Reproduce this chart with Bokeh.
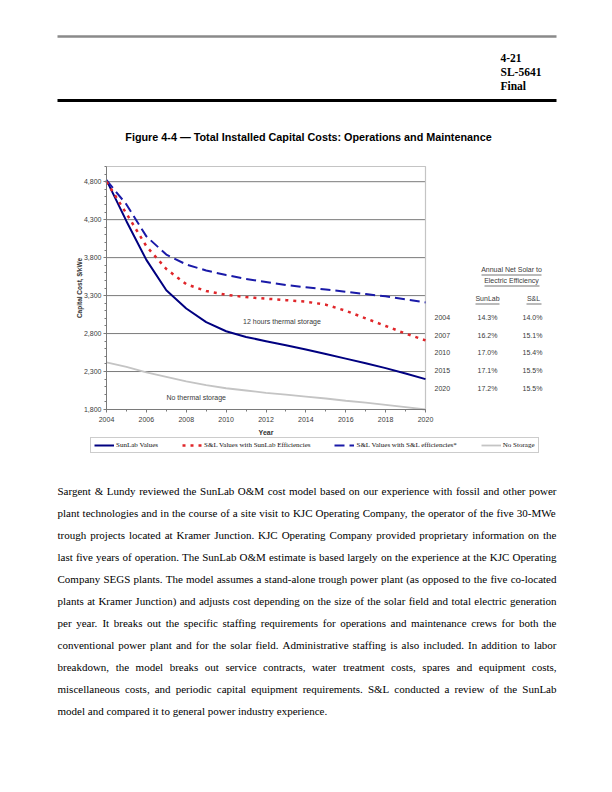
from bokeh.plotting import figure
from bokeh.models import (Range1d, Legend, LegendItem, NumeralTickFormatter,
                          FixedTicker, LinearAxis)
from bokeh.embed import file_html
from bokeh.resources import INLINE
from bokeh.core.properties import value

# ---------------- data ----------------
years = [2004, 2005, 2006, 2007, 2008, 2009, 2010, 2011, 2012, 2013, 2014, 2015, 2016, 2017, 2018, 2019, 2020]
sunlab_values = [4820, 4280, 3770, 3370, 3130, 2950, 2830, 2755, 2700, 2645, 2590, 2530, 2470, 2410, 2345, 2275, 2200]
sl_sunlab_eff = [4800, 4380, 3950, 3650, 3450, 3360, 3310, 3280, 3260, 3240, 3220, 3180, 3100, 3000, 2900, 2800, 2710]
sl_sl_eff = [4820, 4500, 4080, 3840, 3710, 3630, 3570, 3520, 3480, 3440, 3410, 3380, 3350, 3320, 3290, 3250, 3210]
no_storage = [2420, 2360, 2290, 2230, 2170, 2120, 2080, 2050, 2020, 1995, 1970, 1945, 1915, 1890, 1860, 1830, 1800]

series_names = ["SunLab Values", "S&L Values with SunLab Efficiencies",
                "S&L Values with S&L efficiencies*", "No Storage"]

x_ticks = [2004, 2006, 2008, 2010, 2012, 2014, 2016, 2018, 2020]
y_ticks = [1800, 2300, 2800, 3300, 3800, 4300, 4800]
y_top = 5000

eff_years = ["2004", "2007", "2010", "2015", "2020"]
eff_sunlab = ["14.3%", "16.2%", "17.0%", "17.1%", "17.2%"]
eff_sl = ["14.0%", "15.1%", "15.4%", "15.5%", "15.5%"]

header_lines = ["4-21", "SL-5641", "Final"]
fig_title = "Figure 4-4 \u2014 Total Installed Capital Costs: Operations and Maintenance"

body_lines = [
    "Sargent & Lundy reviewed the SunLab O&M cost model based on our experience with fossil and other power",
    "plant technologies and in the course of a site visit to KJC Operating Company, the operator of the five 30-MWe",
    "trough projects located at Kramer Junction. KJC Operating Company provided proprietary information on the",
    "last five years of operation. The SunLab O&M estimate is based largely on the experience at the KJC Operating",
    "Company SEGS plants. The model assumes a stand-alone trough power plant (as opposed to the five co-located",
    "plants at Kramer Junction) and adjusts cost depending on the size of the solar field and total electric generation",
    "per year. It breaks out the specific staffing requirements for operations and maintenance crews for both the",
    "conventional power plant and for the solar field. Administrative staffing is also included. In addition to labor",
    "breakdown, the model breaks out service contracts, water treatment costs, spares and equipment costs,",
    "miscellaneous costs, and periodic capital equipment requirements. S&L conducted a review of the SunLab",
    "model and compared it to general power industry experience.",
]

SANS = "Liberation Sans"
SERIF = "Liberation Serif"

# ---------------- page geometry (picture pixels; canvas sits at picture origin) ----------------
W, H = 596, 776
PX0, PX1 = 106, 425        # chart plot area left/right
PY_TOP, PY_BOT = 166, 409  # chart plot area top/bottom

xs = (PX1 - PX0) / float(years[-1] - years[0])
ys = (PY_BOT - PY_TOP) / float(y_top - y_ticks[0])
x_start = years[0] - PX0 / xs
x_end = years[0] + (W - PX0) / xs
y_start = y_ticks[0] - (H - PY_BOT) / ys
y_end = y_top + PY_TOP / ys

p = figure(width=W, height=H, x_range=Range1d(x_start, x_end), y_range=Range1d(y_start, y_end),
           output_backend="svg", toolbar_location=None, x_axis_type=None, y_axis_type=None,
           min_border=0)
p.outline_line_color = None
p.extra_x_ranges = {"page": Range1d(0, W)}
p.extra_y_ranges = {"page": Range1d(H, 0)}
PG = dict(x_range_name="page", y_range_name="page")

# ---------------- axes ----------------
xaxis = LinearAxis(fixed_location=y_ticks[0], bounds=(years[0], years[-1]),
                   ticker=FixedTicker(ticks=x_ticks, minor_ticks=years))
yaxis = LinearAxis(fixed_location=years[0], bounds=(y_ticks[0], y_top),
                   ticker=FixedTicker(ticks=y_ticks, minor_ticks=list(range(y_ticks[0], y_top + 1, 100))),
                   formatter=NumeralTickFormatter(format="0,0"))
for ax in (xaxis, yaxis):
    ax.axis_line_color = "#7a7a7a"
    ax.major_tick_line_color = "#7a7a7a"
    ax.minor_tick_line_color = "#7a7a7a"
    ax.major_tick_in = 0
    ax.major_tick_out = 3
    ax.minor_tick_in = 0
    ax.minor_tick_out = 2
    ax.major_label_text_font = SANS
    ax.major_label_text_font_size = "7px"
    ax.major_label_text_color = "#3c3c3c"
    ax.axis_label_text_font = SANS
    ax.axis_label_text_font_style = "bold"
    ax.axis_label_text_color = "#333333"
xaxis.axis_label = "Year"
xaxis.axis_label_text_font_size = "7px"
xaxis.axis_label_standoff = 4
xaxis.major_label_standoff = 4
yaxis.axis_label = "Capital Cost, $/kWe"
yaxis.axis_label_text_font_size = "6.5px"
yaxis.axis_label_standoff = -2
yaxis.major_label_standoff = 2
p.add_layout(xaxis, "below")
p.add_layout(yaxis, "left")

# plot-area gridlines and border
p.segment(x0=[years[0]] * len(y_ticks[1:]), x1=[years[-1]] * len(y_ticks[1:]),
          y0=y_ticks[1:], y1=y_ticks[1:], line_color="#7a7a7a", line_width=1)
p.line(x=[years[0], years[-1], years[-1]], y=[y_top, y_top, y_ticks[0]],
       line_color="#c4c4c4", line_width=1.2)

# ---------------- series ----------------
r_ns = p.line(years, no_storage, line_color="#c4c4c4", line_width=1.8)
r_sl = p.line(years, sunlab_values, line_color="#000080", line_width=2)
r_ssl = p.line(years, sl_sl_eff, line_color="#1a1aa8", line_width=2, line_dash="10 5")
r_sse = p.line(years, sl_sunlab_eff, line_color="#e0262a", line_width=2.5, line_dash="3 5")

# in-chart notes (data coordinates)
p.text(x=[2012.8, 2008.5], y=[2960, 1960], text=["12 hours thermal storage", "No thermal storage"],
       text_font=value(SANS), text_font_size="7px", text_color="#3a3a3a",
       text_align="center", text_baseline="middle")

# ---------------- efficiency table (page coordinates) ----------------
TC = "#3a3a3a"
p.text(x=[511, 511], y=[269, 280], text=["Annual Net Solar to", "Electric Efficiency"],
       text_font=value(SANS), text_font_size="7px", text_color=TC, text_align="center",
       text_baseline="middle", **PG)
p.text(x=[487, 533], y=[298, 298], text=["SunLab", "S&L"],
       text_font=value(SANS), text_font_size="7px", text_color=TC, text_align="center",
       text_baseline="middle", **PG)
p.segment(x0=[481, 484, 475, 526], x1=[541, 539, 499, 541], y0=[274.5, 285.5, 303.5, 303.5],
          y1=[274.5, 285.5, 303.5, 303.5], line_color=TC, line_width=0.7, **PG)
row_y = [317, 335, 352, 370, 388]
p.text(x=[434] * 5, y=row_y, text=eff_years, text_font=value(SANS), text_font_size="7px",
       text_color=TC, text_align="left", text_baseline="middle", **PG)
p.text(x=[487] * 5, y=row_y, text=eff_sunlab, text_font=value(SANS), text_font_size="7px",
       text_color=TC, text_align="center", text_baseline="middle", **PG)
p.text(x=[532] * 5, y=row_y, text=eff_sl, text_font=value(SANS), text_font_size="7px",
       text_color=TC, text_align="center", text_baseline="middle", **PG)

# ---------------- legend ----------------
legend = Legend(items=[LegendItem(label=series_names[0], renderers=[r_sl]),
                       LegendItem(label=series_names[1], renderers=[r_sse]),
                       LegendItem(label=series_names[2], renderers=[r_ssl]),
                       LegendItem(label=series_names[3], renderers=[r_ns])],
                orientation="horizontal", location=(90, H - 453),
                label_text_font=SERIF, label_text_font_size="7px", label_text_color="#111111",
                glyph_width=20, glyph_height=8, label_height=8, label_standoff=2, spacing=24,
                padding=3, margin=0, border_line_color="#9a9a9a", border_line_width=1,
                background_fill_alpha=0)
p.add_layout(legend)

# ---------------- page header ----------------
p.segment(x0=[57, 57], x1=[556, 556], y0=[36, 100], y1=[36, 100],
          line_color=["#8a8a8a", "#000000"], line_width=[2.5, 3], **PG)
p.text(x=[500, 500, 500], y=[57, 71, 85], text=header_lines, text_font=value(SERIF),
       text_font_style="bold", text_font_size="11.5px", text_baseline="middle",
       text_align="left", text_color="black", **PG)
p.text(x=[308], y=[136], text=[fig_title], text_font=value(SANS), text_font_style="bold",
       text_font_size="10.8px", text_align="center", text_baseline="middle", text_color="black", **PG)

# ---------------- body text (justified) ----------------
TW = {' ': 250, '!': 333, '"': 408, '#': 500, '$': 500, '%': 833, '&': 778, "'": 333, '(': 333,
      ')': 333, '*': 500, '+': 564, ',': 250, '-': 333, '.': 250, '/': 278, ':': 278, ';': 278,
      '?': 444, 'A': 722, 'B': 667, 'C': 667, 'D': 722, 'E': 611, 'F': 556, 'G': 722, 'H': 722,
      'I': 333, 'J': 389, 'K': 722, 'L': 611, 'M': 889, 'N': 722, 'O': 722, 'P': 556, 'Q': 722,
      'R': 667, 'S': 556, 'T': 611, 'U': 722, 'V': 722, 'W': 944, 'X': 722, 'Y': 722, 'Z': 611,
      'a': 444, 'b': 500, 'c': 444, 'd': 500, 'e': 444, 'f': 333, 'g': 500, 'h': 500, 'i': 278,
      'j': 278, 'k': 500, 'l': 278, 'm': 778, 'n': 500, 'o': 500, 'p': 500, 'q': 500, 'r': 333,
      's': 389, 't': 278, 'u': 500, 'v': 500, 'w': 722, 'x': 500, 'y': 500, 'z': 444}
for d in "0123456789":
    TW[d] = 500


def units(s):
    return sum(TW.get(c, 500) for c in s)


FS = 11.0
LEFT, RIGHT = 57.0, 556.0
wx, wy, wt = [], [], []
for i, line in enumerate(body_lines):
    y = 490 + 22 * i
    words = line.split(" ")
    widths = [units(w) * FS / 1000.0 for w in words]
    if i < len(body_lines) - 1 and len(words) > 1:
        gap = (RIGHT - LEFT - sum(widths)) / (len(words) - 1)
    else:
        gap = 250 * FS / 1000.0
    x = LEFT
    for w, ww in zip(words, widths):
        wx.append(x)
        wy.append(y)
        wt.append(w)
        x += ww + gap
p.text(x=wx, y=wy, text=wt, text_font=value(SERIF), text_font_size="%.2fpx" % FS,
       text_baseline="middle", text_align="left", text_color="black", **PG)

open("out.html", "w").write(file_html(p, INLINE))
